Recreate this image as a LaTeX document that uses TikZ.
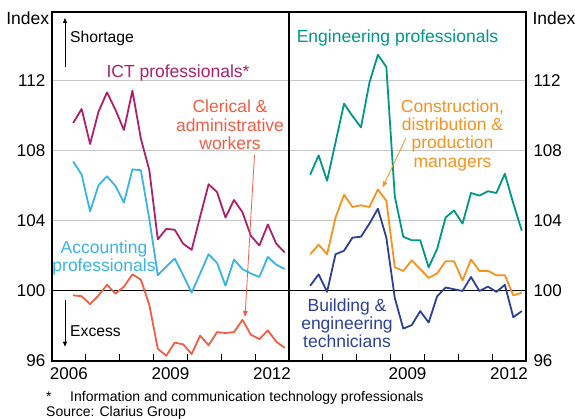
\documentclass[tikz,border=0pt]{standalone}
\usepackage{fontspec}
\setmainfont{Liberation Sans}
\usetikzlibrary{arrows.meta}
\definecolor{ictcol}{RGB}{172,32,108}
\definecolor{acccol}{RGB}{58,180,228}
\definecolor{clercol}{RGB}{240,94,70}
\definecolor{engcol}{RGB}{0,150,136}
\definecolor{concol}{RGB}{246,146,30}
\definecolor{bldcol}{RGB}{44,64,152}
\definecolor{gridcol}{RGB}{200,200,200}
\begin{document}
\begin{tikzpicture}[x=1pt, y=1pt,
    every node/.style={inner sep=0pt},
    numlab/.style={font=\fontsize{17}{17}\selectfont},
    serieslab/.style={font=\fontsize{17.5}{18.3}\selectfont, align=center, anchor=north},
    notelab/.style={font=\fontsize{15.7}{16}\selectfont, anchor=north west},
    footlab/.style={font=\fontsize{14}{14}\selectfont, anchor=north west},
    gridline/.style={gridcol, line width=1pt},
    series/.style={line width=1.8pt, line join=round},
    pointer/.style={line width=0.8pt, -{Triangle[length=6pt,width=4.5pt]}},
    sidearrow/.style={line width=0.8pt, -{Triangle[length=5pt,width=4pt]}}
    ]
    \useasboundingbox (0,0) rectangle (575,419);

    % grid
    \foreach \v in {104,108,112}
    {
        \draw[gridline] (52,{128+17.5*(\v-100)}) -- (526,{128+17.5*(\v-100)});
    }
    \draw[line width=1pt] (52,128) -- (526,128);

    % left panel
    \begin{scope}[shift={(52,-1622)}, x=8.4643pt, y=17.5pt]
        \draw[series, ictcol] plot coordinates {(2.5,109.6) (3.5,110.4) (4.5,108.4) (5.5,110.25) (6.5,111.35) (7.5,110.35) (8.5,109.2) (9.5,111.45) (10.5,108.7) (11.5,106.9) (12.5,102.95) (13.5,103.55) (14.5,103.5) (15.5,102.7) (16.5,102.35) (17.5,104.25) (18.5,106.1) (19.5,105.65) (20.5,104.2) (21.5,105.2) (22.5,104.5) (23.5,103.15) (24.5,102.6) (25.5,103.8) (26.5,102.7) (27.5,102.2)};
        \draw[series, acccol] plot coordinates {(2.5,107.4) (3.5,106.65) (4.5,104.55) (5.5,106.05) (6.5,106.55) (7.5,106.0) (8.5,105.05) (9.5,106.95) (10.5,106.9) (11.5,104.1) (12.5,100.9) (13.5,101.4) (14.5,101.85) (15.5,100.9) (16.5,99.9) (17.5,101.0) (18.5,102.1) (19.5,101.6) (20.5,100.3) (21.5,101.8) (22.5,101.25) (23.5,101.0) (24.5,100.8) (25.5,101.95) (26.5,101.5) (27.5,101.25)};
        \draw[series, clercol] plot coordinates {(2.5,99.75) (3.5,99.7) (4.5,99.25) (5.5,99.75) (6.5,100.35) (7.5,99.85) (8.5,100.25) (9.5,100.95) (10.5,100.65) (11.5,99.2) (12.5,96.7) (13.5,96.3) (14.5,97.05) (15.5,96.95) (16.5,96.4) (17.5,97.45) (18.5,96.9) (19.5,97.65) (20.5,97.6) (21.5,97.65) (22.5,98.35) (23.5,97.5) (24.5,97.25) (25.5,97.75) (26.5,97.1) (27.5,96.75)};
    \end{scope}

    % right panel
    \begin{scope}[shift={(289,-1622)}, x=8.4643pt, y=17.5pt]
        \draw[series, engcol] plot coordinates {(2.5,106.65) (3.5,107.75) (4.5,106.3) (5.5,108.5) (6.5,110.7) (7.5,110.0) (8.5,109.35) (9.5,111.9) (10.5,113.5) (11.5,112.8) (12.5,105.4) (13.5,103.1) (14.5,102.9) (15.5,102.9) (16.5,101.35) (17.5,102.4) (18.5,104.2) (19.5,104.6) (20.5,103.85) (21.5,105.6) (22.5,105.45) (23.5,105.7) (24.5,105.6) (25.5,106.7) (26.5,105.0) (27.5,103.45)};
        \draw[series, concol] plot coordinates {(2.5,102.1) (3.5,102.65) (4.5,102.1) (5.5,104.2) (6.5,105.5) (7.5,104.8) (8.5,104.9) (9.5,104.8) (10.5,105.8) (11.5,105.15) (12.5,101.35) (13.5,101.15) (14.5,101.75) (15.5,101.25) (16.5,100.75) (17.5,101.0) (18.5,101.7) (19.5,101.7) (20.5,100.6) (21.5,101.8) (22.5,101.15) (23.5,101.15) (24.5,100.9) (25.5,100.9) (26.5,99.75) (27.5,99.9)};
        \draw[series, bldcol] plot coordinates {(2.5,100.3) (3.5,100.95) (4.5,99.95) (5.5,102.1) (6.5,102.3) (7.5,103.05) (8.5,103.1) (9.5,103.85) (10.5,104.7) (11.5,103.05) (12.5,99.6) (13.5,97.85) (14.5,98.05) (15.5,98.85) (16.5,98.2) (17.5,99.7) (18.5,100.2) (19.5,100.1) (20.5,100.0) (21.5,100.8) (22.5,100.0) (23.5,100.25) (24.5,99.95) (25.5,100.35) (26.5,98.5) (27.5,98.85)};
    \end{scope}

    % frame and ticks
    \draw[line width=1.2pt] (52,58) rectangle (526,407);
    \draw[line width=1.2pt] (289,58) -- (289,407);
    \foreach \i in {1,...,6}
    {
        \draw[line width=1pt] ({52+33.857*\i},58) -- ++(0,7);
        \draw[line width=1pt] ({289+33.857*\i},58) -- ++(0,7);
    }

    % axis labels
    \node[numlab, font=\fontsize{17.5}{17.5}\selectfont, anchor=north east] (indexl) at (49.3,407.3) {Index};
    \node[numlab, font=\fontsize{17.5}{17.5}\selectfont, anchor=north west] (indexr) at (532.3,407.3) {Index};
    \foreach \v in {96,100,104,108,112}
    {
        \node[numlab, anchor=east] (numl\v) at (45.5,{128+17.5*(\v-100)}) {\v};
        \node[numlab, anchor=west] (numr\v) at (533.3,{128+17.5*(\v-100)}) {\v};
    }
    \node[numlab] (yrA) at (68.9,45) {2006};
    \node[numlab] (yrB) at (170.5,45) {2009};
    \node[numlab] (yrC) at (272,45) {2012};
    \node[numlab] (yrD) at (407.5,45) {2009};
    \node[numlab] (yrE) at (509,45) {2012};

    % shortage / excess
    \coordinate (shortfrom) at (65,352.3);
    \coordinate (shortto) at (65,401);
    \coordinate (excessfrom) at (65,119);
    \coordinate (excessto) at (65,72.3);
    \draw[sidearrow] (shortfrom) -- (shortto);
    \draw[sidearrow] (excessfrom) -- (excessto);
    \node[notelab] (shortage) at (70,388) {Shortage};
    \node[notelab] (excess) at (70,93) {Excess};

    % series labels
    \node[serieslab, ictcol] (ictlab) at (178,354.7) {ICT professionals*};
    \node[serieslab, clercol] (clerlab) at (230,319) {Clerical \&\\administrative\\workers};
    \node[serieslab, acccol] (acclab) at (104,178.3) {Accounting\\professionals};
    \node[serieslab, engcol] (englab) at (397.5,389.7) {Engineering professionals};
    \node[serieslab, concol] (conlab) at (452.5,319.7) {Construction,\\distribution \&\\production\\managers};
    \node[serieslab, bldcol] (bldlab) at (347,120.7) {Building \&\\engineering\\technicians};

    \coordinate (clerfrom) at (254.5,264);
    \coordinate (clerto) at (245,102);
    \coordinate (confrom) at (406,281);
    \coordinate (conto) at (382.5,231.5);
    \draw[pointer, clercol] (clerfrom) -- (clerto);
    \draw[pointer, concol] (confrom) -- (conto);

    % notes
    \node[footlab] (star) at (46,27.3) {*};
    \node[footlab] (footnote) at (70,28) {Information and communication technology professionals};
    \node[footlab] (source) at (46,13.3) {Source: Clarius Group};
\end{tikzpicture}
\end{document}
